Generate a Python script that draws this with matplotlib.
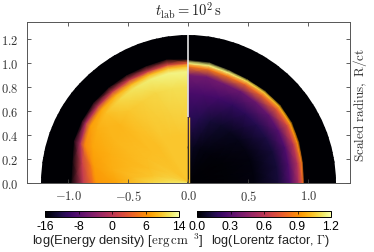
import numpy as np
import matplotlib
matplotlib.use('Agg')
import matplotlib.pyplot as plt
from matplotlib.patches import Circle
from matplotlib.cm import ScalarMappable
from matplotlib.colors import Normalize

plt.rcParams['font.family'] = ['Liberation Sans', 'DejaVu Sans']
plt.rcParams['mathtext.fontset'] = 'cm'

# angle from the vertical axis, degrees
angles = [0, 10, 20, 30, 40, 50, 60, 70, 80, 90]

# left half: radial nodes and log energy density at the nodes
left_radius = [
    [0.0, 0.40, 0.80, 0.93, 0.975, 1.00, 1.035, 1.30],
    [0.0, 0.40, 0.80, 0.93, 0.970, 1.00, 1.05, 1.30],
    [0.0, 0.40, 0.80, 0.92, 0.960, 0.99, 1.04, 1.30],
    [0.0, 0.40, 0.78, 0.91, 0.950, 0.99, 1.04, 1.30],
    [0.0, 0.40, 0.78, 0.90, 0.950, 0.99, 1.04, 1.30],
    [0.0, 0.40, 0.75, 0.90, 0.950, 0.99, 1.04, 1.30],
    [0.0, 0.40, 0.72, 0.88, 0.945, 0.99, 1.03, 1.30],
    [0.0, 0.35, 0.70, 0.85, 0.920, 0.96, 1.02, 1.30],
    [0.0, 0.30, 0.65, 0.80, 0.830, 0.90, 0.985, 1.30],
    [0.0, 0.30, 0.60, 0.77, 0.800, 0.88, 0.98, 1.30],
]
left_energy = [
    [10.0, 10.0, 11.5, 13.0, 9.5, 3.0, -16, -16],
    [10.0, 10.0, 11.5, 13.0, 9.5, 1.0, -16, -16],
    [10.0, 10.0, 11.0, 12.5, 9.0, 0.0, -16, -16],
    [10.0, 10.0, 10.5, 12.0, 9.0, 0.0, -16, -16],
    [10.0, 9.5, 10.0, 11.0, 8.5, 0.0, -16, -16],
    [10.0, 9.5, 9.0, 9.5, 8.0, -1.0, -16, -16],
    [10.5, 9.5, 9.0, 8.5, 7.5, -2.0, -16, -16],
    [11.0, 9.5, 8.5, 8.0, 6.0, -2.0, -16, -16],
    [12.0, 10.0, 8.5, 7.5, 5.0, 0.0, -16, -16],
    [12.5, 11.0, 8.0, 7.0, 4.5, -1.0, -16, -16],
]

# right half: radial nodes and log Lorentz factor at the nodes
right_radius = [
    [0.0, 0.30, 0.55, 0.75, 0.90, 0.975, 1.00, 1.03, 1.30],
    [0.0, 0.30, 0.55, 0.75, 0.90, 0.965, 0.995, 1.025, 1.30],
    [0.0, 0.30, 0.55, 0.75, 0.88, 0.950, 0.98, 1.005, 1.30],
    [0.0, 0.30, 0.55, 0.75, 0.88, 0.950, 0.98, 1.00, 1.30],
    [0.0, 0.30, 0.55, 0.75, 0.88, 0.955, 0.985, 1.005, 1.30],
    [0.0, 0.30, 0.55, 0.75, 0.88, 0.960, 0.99, 1.01, 1.30],
    [0.0, 0.30, 0.55, 0.75, 0.87, 0.955, 0.985, 1.005, 1.30],
    [0.0, 0.30, 0.55, 0.75, 0.86, 0.935, 0.97, 0.99, 1.30],
    [0.0, 0.30, 0.55, 0.75, 0.85, 0.925, 0.96, 0.975, 1.30],
    [0.0, 0.30, 0.55, 0.75, 0.85, 0.920, 0.955, 0.97, 1.30],
]
right_gamma = [
    [0.03, 0.08, 0.18, 0.26, 0.38, 0.85, 1.15, 0.0, 0.0],
    [0.01, 0.06, 0.16, 0.26, 0.38, 0.85, 1.15, 0.0, 0.0],
    [0.005, 0.04, 0.12, 0.24, 0.38, 0.85, 1.15, 0.0, 0.0],
    [0.00, 0.03, 0.09, 0.20, 0.36, 0.80, 1.10, 0.0, 0.0],
    [0.00, 0.02, 0.07, 0.18, 0.36, 0.80, 1.05, 0.0, 0.0],
    [0.00, 0.015, 0.05, 0.16, 0.34, 0.75, 1.00, 0.0, 0.0],
    [0.00, 0.01, 0.04, 0.14, 0.30, 0.70, 0.95, 0.0, 0.0],
    [0.00, 0.01, 0.03, 0.12, 0.28, 0.62, 0.90, 0.0, 0.0],
    [0.00, 0.01, 0.03, 0.12, 0.28, 0.58, 0.85, 0.0, 0.0],
    [0.00, 0.01, 0.03, 0.12, 0.28, 0.55, 0.80, 0.0, 0.0],
]

x_ticks = [-1.0, -0.5, 0.0, 0.5, 1.0]
y_ticks = [0.0, 0.2, 0.4, 0.6, 0.8, 1.0, 1.2]
energy_ticks = [-16, -8.5, -1, 6.5, 14]
energy_labels = ['-16', '-8', '0', '6', '14']
gamma_ticks = [0.0, 0.3, 0.6, 0.9, 1.2]
gamma_labels = ['0.0', '0.3', '0.6', '0.9', '1.2']

W, H = 374, 253
fig = plt.figure(figsize=(W / 100, H / 100), dpi=100)
ax = fig.add_axes([27 / W, 1 - 184 / H, 323 / W, 161 / H])

th = np.radians(angles)[:, None]


def half_disc(radius, values, sign, norm):
    r = np.array(radius)
    mesh = ax.pcolormesh(sign * r * np.sin(th), r * np.cos(th), np.array(values),
                         shading='gouraud', cmap='inferno', norm=norm)
    mesh.set_clip_path(Circle((0, 0), 1.23, transform=ax.transData))


energy_norm = Normalize(-16, 14)
gamma_norm = Normalize(0, 1.2)
half_disc(left_radius, left_energy, -1, energy_norm)
half_disc(right_radius, right_gamma, 1, gamma_norm)
# divider between the halves
ax.plot([0, 0], [0.55, 1.23], color='#e4e4e4', lw=1.2, solid_capstyle='butt')
ax.plot([0.004, 0.004], [0, 0.55], color='#f8c02c', lw=1.0, solid_capstyle='butt')

ax.set_xlim(-1.344, 1.348)
ax.set_ylim(0, 1.342)
ax.set_xticks(x_ticks)
ax.set_xticklabels(['$%.1f$' % v for v in x_ticks])
ax.set_yticks(y_ticks)
ax.set_yticklabels(['$%.1f$' % v for v in y_ticks])
ax.tick_params(direction='in', top=True, right=True, length=3, width=0.6,
               labelsize=9, color='#444444', labelcolor='#333333', pad=6)
ax.tick_params(axis='x', pad=4)
for s in ax.spines.values():
    s.set_linewidth(0.7)
    s.set_color('#555555')

fig.text(188 / W, 1 - 11 / H, r'$t_{\rm lab}=10^2\,{\rm s}$', ha='center', va='center',
         fontsize=10.5, color='#222222')
fig.text(360 / W, 1 - 105 / H, r'$\mathrm{Scaled\ radius,\ R/ct}$', rotation=90,
         ha='center', va='center', fontsize=9.5, color='#333333')


def colorbar(left, norm, ticks, labels):
    cax = fig.add_axes([left / W, 1 - 218 / H, 134 / W, 6 / H])
    cb = fig.colorbar(ScalarMappable(norm=norm, cmap='inferno'), cax=cax, orientation='horizontal')
    cb.set_ticks(ticks)
    cb.set_ticklabels(labels)
    cb.minorticks_off()
    cb.ax.tick_params(direction='in', length=2, width=0.5, labelsize=8.8, pad=2,
                      top=True, bottom=False, labelbottom=True)
    cb.outline.set_linewidth(0.7)


colorbar(45, energy_norm, energy_ticks, energy_labels)
colorbar(197, gamma_norm, gamma_ticks, gamma_labels)
fig.text(32 / W, 1 - 241 / H, r'log(Energy density) [$\mathrm{erg\,cm}^{\ \ 3}$]',
         ha='left', va='center', fontsize=9.4, color='#222222')
fig.text(211 / W, 1 - 241 / H, r'log(Lorentz factor, $\Gamma$)',
         ha='left', va='center', fontsize=9.1, color='#222222')

fig.savefig('out.png', dpi=100)
